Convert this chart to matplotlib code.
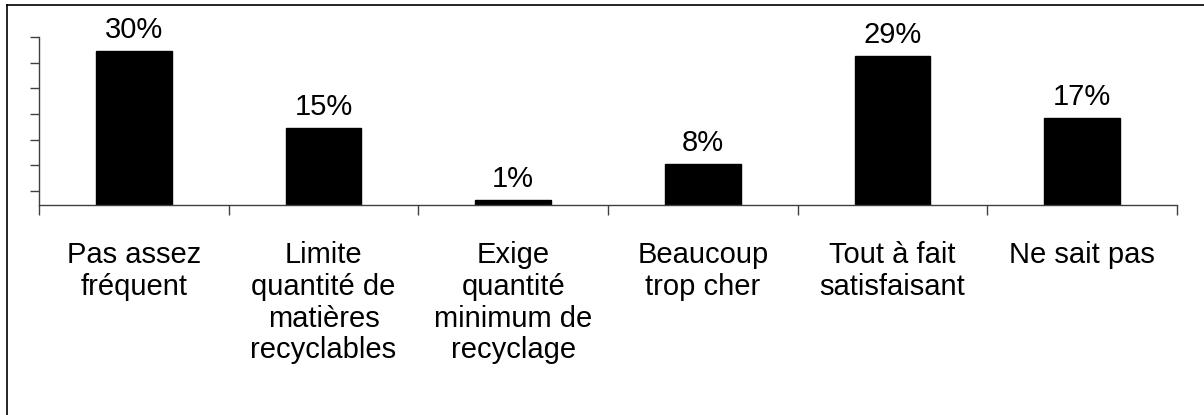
import matplotlib
matplotlib.use("Agg")
import matplotlib.pyplot as plt
from matplotlib.lines import Line2D
import numpy as np

plt.rcParams['font.family'] = ['Liberation Sans', 'DejaVu Sans']

categories = ["Pas assez\nfréquent",
              "Limite\nquantité de\nmatières\nrecyclables",
              "Exige\nquantité\nminimum de\nrecyclage",
              "Beaucoup\ntrop cher",
              "Tout à fait\nsatisfaisant",
              "Ne sait pas"]
values = [30, 15, 1, 8, 29, 17]
value_labels = ["30%", "15%", "1%", "8%", "29%", "17%"]

fig = plt.figure(figsize=(12.04, 4.15), dpi=100)
ax = fig.add_axes([39 / 1204, 1 - 205 / 415, 1138 / 1204, 168 / 415])

x = np.arange(len(values)) + 0.5
ax.bar(x, values, width=0.4, color="black", edgecolor="black", linewidth=1)

ymax = 32.73
ax.set_ylim(0, ymax)
ax.set_xlim(0, len(values))
ax.set_yticks([ymax - 5 * k for k in range(7)])
ax.set_yticklabels([])

for xi, v, lab in zip(x, values, value_labels):
    ax.annotate(lab, (xi, v), xytext=(0, 5), textcoords="offset points",
                ha="center", va="bottom", fontsize=21)

ax.set_xticks(x)
ax.set_xticklabels(categories, fontsize=21, linespacing=1.17, va="top")
ax.tick_params(axis="x", which="major", length=0, pad=26)
ax.set_xticks(np.arange(len(values) + 1), minor=True)
ax.tick_params(axis="x", which="minor", length=7, width=1, color="#404040", direction="out")
ax.tick_params(axis="y", length=6.5, width=1, color="#404040", direction="out")

for side in ["top", "right"]:
    ax.spines[side].set_visible(False)
for side in ["left", "bottom"]:
    ax.spines[side].set_color("#404040")
    ax.spines[side].set_linewidth(1)

# outer chart frame (top and left edges visible)
fig.add_artist(Line2D([7 / 1204, 1], [1 - 5 / 415, 1 - 5 / 415], color="black", lw=1.2))
fig.add_artist(Line2D([7 / 1204, 7 / 1204], [0, 1 - 5 / 415], color="black", lw=1.2))

fig.savefig("out.png", dpi=100)
